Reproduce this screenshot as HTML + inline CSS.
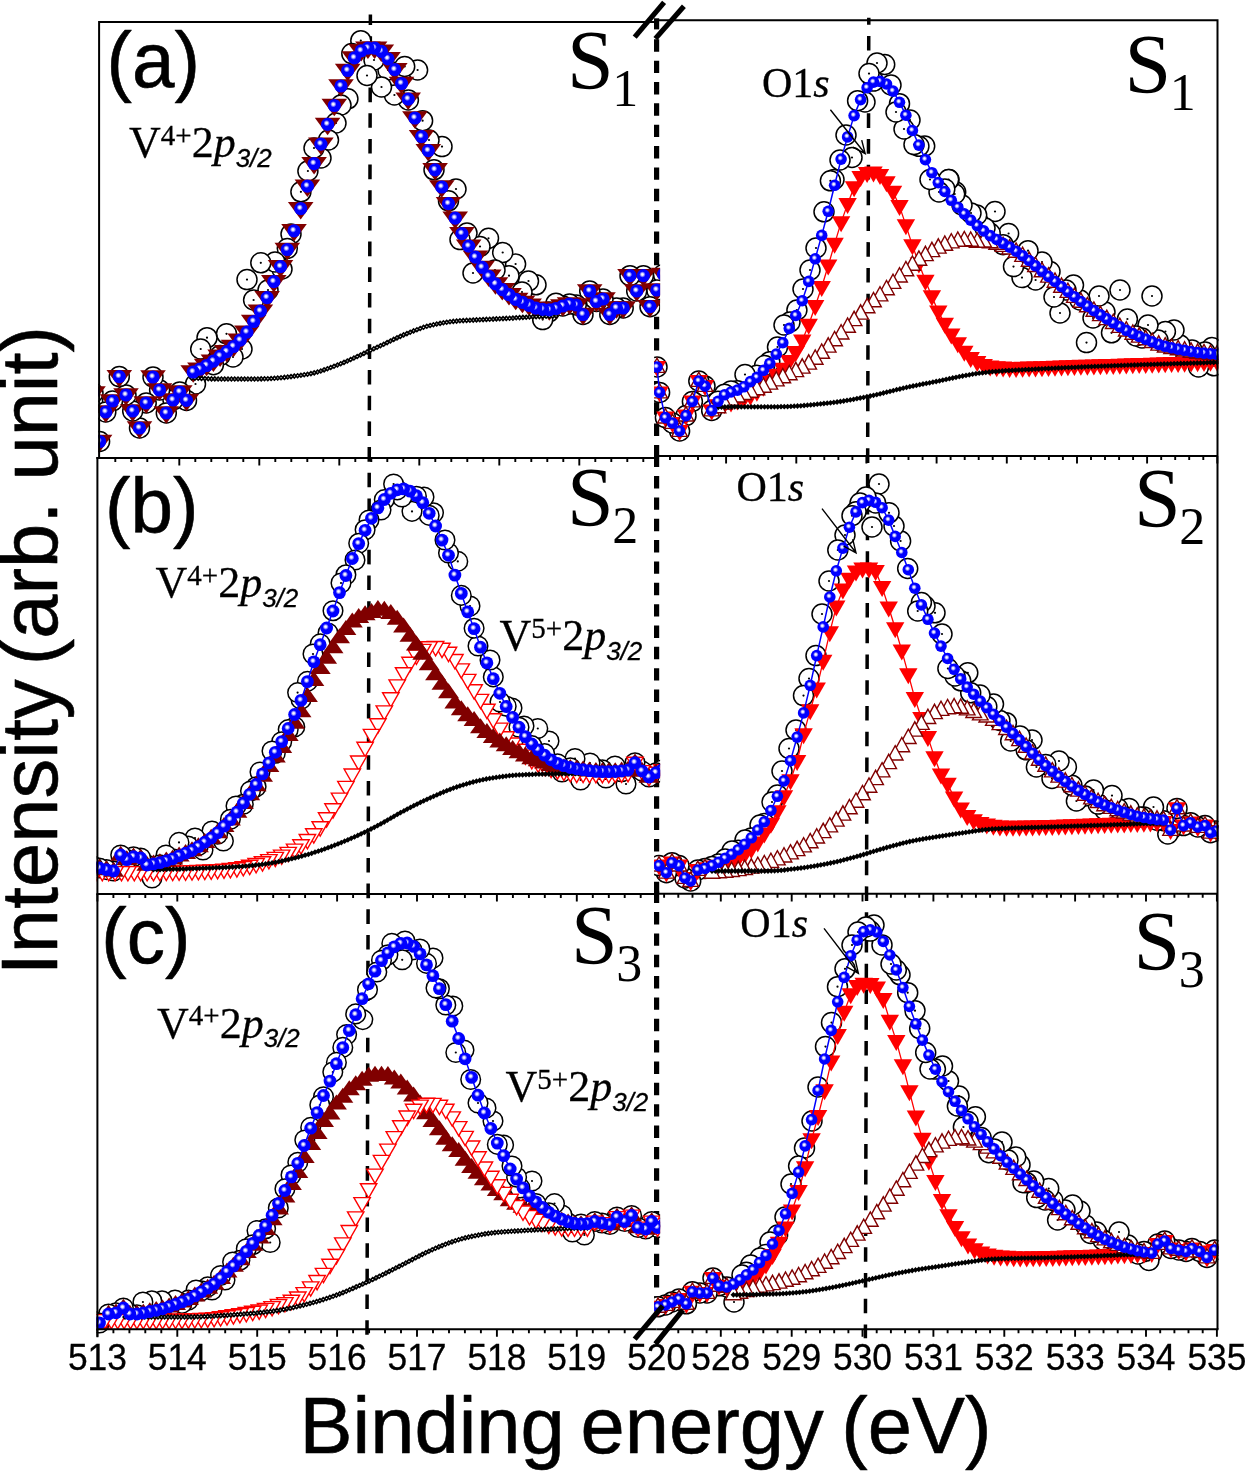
<!DOCTYPE html>
<html lang="en"><head><meta charset="utf-8"><title>XPS spectra: V 2p3/2 and O 1s</title>
<style>html,body{margin:0;padding:0;background:#fff;overflow:hidden}svg{display:block}text{font-family:"Liberation Sans",Arial,sans-serif;fill:#000}.se{font-family:"Liberation Serif","Times New Roman",serif}.it{font-style:italic}.sa{font-family:"Liberation Sans",Arial,sans-serif;font-style:italic}.w{stroke:#000;stroke-width:0.6;stroke-linejoin:round}.w2{stroke:#000;stroke-width:0.3}.w3{stroke:none}.n0{stroke:none}</style></head><body>
<svg width="1245" height="1471" viewBox="0 0 1245 1471">
<defs>
<radialGradient id="gb" cx="0.44" cy="0.42" r="0.6" fx="0.42" fy="0.40"><stop offset="0" stop-color="#fff"/><stop offset="0.14" stop-color="#e4e4ff"/><stop offset="0.40" stop-color="#00f"/><stop offset="1" stop-color="#00f"/></radialGradient>
<marker id="oA" markerUnits="userSpaceOnUse" markerWidth="30" markerHeight="30" refX="0" refY="0" viewBox="-15 -15 30 30" overflow="visible"><circle r="10.0" fill="#fff" stroke="#000" stroke-width="1.5"/><circle r="1.1" fill="#000"/></marker>
<marker id="oL" markerUnits="userSpaceOnUse" markerWidth="30" markerHeight="30" refX="0" refY="0" viewBox="-15 -15 30 30" overflow="visible"><circle r="9.8" fill="#fff" stroke="#000" stroke-width="1.5"/><circle r="1.1" fill="#000"/></marker>
<marker id="oR" markerUnits="userSpaceOnUse" markerWidth="30" markerHeight="30" refX="0" refY="0" viewBox="-15 -15 30 30" overflow="visible"><circle r="10.0" fill="#fff" stroke="#000" stroke-width="1.5"/><circle r="1.1" fill="#000"/></marker>
<marker id="bA" markerUnits="userSpaceOnUse" markerWidth="30" markerHeight="30" refX="0" refY="0" viewBox="-15 -15 30 30" overflow="visible"><circle r="6.6" fill="url(#gb)"/></marker>
<marker id="bL" markerUnits="userSpaceOnUse" markerWidth="30" markerHeight="30" refX="0" refY="0" viewBox="-15 -15 30 30" overflow="visible"><circle r="6.4" fill="url(#gb)"/></marker>
<marker id="bR" markerUnits="userSpaceOnUse" markerWidth="30" markerHeight="30" refX="0" refY="0" viewBox="-15 -15 30 30" overflow="visible"><circle r="5.8" fill="url(#gb)"/></marker>
<marker id="mdA" markerUnits="userSpaceOnUse" markerWidth="30" markerHeight="30" refX="0" refY="0" viewBox="-15 -15 30 30" overflow="visible"><path d="M-12.8,-6.7 L12.8,-6.7 L0,10.8 Z" fill="#800000"/></marker>
<marker id="muL" markerUnits="userSpaceOnUse" markerWidth="30" markerHeight="30" refX="0" refY="0" viewBox="-15 -15 30 30" overflow="visible"><path d="M-10.5,5.7 L10.5,5.7 L0,-9.3 Z" fill="#800000"/></marker>
<marker id="rdL" markerUnits="userSpaceOnUse" markerWidth="30" markerHeight="30" refX="0" refY="0" viewBox="-15 -15 30 30" overflow="visible"><path d="M-8.2,-5.4 L8.2,-5.4 L0,8.9 Z" fill="#fff" stroke="#f00" stroke-width="1.4"/></marker>
<marker id="rdR" markerUnits="userSpaceOnUse" markerWidth="30" markerHeight="30" refX="0" refY="0" viewBox="-15 -15 30 30" overflow="visible"><path d="M-9.2,-6.1 L9.2,-6.1 L0,9.9 Z" fill="#f00"/></marker>
<marker id="mlR" markerUnits="userSpaceOnUse" markerWidth="30" markerHeight="30" refX="0" refY="0" viewBox="-15 -15 30 30" overflow="visible"><path d="M-7.8,5.4 L7.8,5.4 L0,-8.9 Z" fill="#fff" stroke="#800000" stroke-width="1.4"/></marker>
<marker id="kd" markerUnits="userSpaceOnUse" markerWidth="30" markerHeight="30" refX="0" refY="0" viewBox="-15 -15 30 30" overflow="visible"><path d="M-2.9,0 L0,-2.9 L2.9,0 L0,2.9 Z" fill="#000"/></marker>
<marker id="ko" markerUnits="userSpaceOnUse" markerWidth="30" markerHeight="30" refX="0" refY="0" viewBox="-15 -15 30 30" overflow="visible"><path d="M-1.9,0 L0,-1.9 L1.9,0 L0,1.9 Z" fill="#fff" stroke="#000" stroke-width="1.6"/></marker>
<clipPath id="cL"><rect x="96.5" y="0" width="563.6" height="1471"/></clipPath>
<clipPath id="cA"><rect x="98.2" y="0" width="561.9" height="1471"/></clipPath>
<clipPath id="cR"><rect x="654.1" y="0" width="564.4" height="1471"/></clipPath>
</defs>
<rect x="0" y="0" width="1245" height="1471" fill="#fff"/>
<line x1="370.4" y1="14.5" x2="367" y2="1335" stroke="#000" stroke-width="3.5" stroke-dasharray="14.6 11.08" stroke-dashoffset="4"/>
<line x1="868.8" y1="17.7" x2="865.4" y2="1338.3" stroke="#000" stroke-width="3.5" stroke-dasharray="14.6 11.17" stroke-dashoffset="7.5"/>
<line x1="656.6" y1="18.3" x2="656.6" y2="29.4" stroke="#000" stroke-width="5.2" stroke-dasharray="40 1" stroke-dashoffset="0"/>
<line x1="656.6" y1="39.3" x2="656.6" y2="457.5" stroke="#000" stroke-width="5.2" stroke-dasharray="12.4 8.95" stroke-dashoffset="0"/>
<line x1="656.6" y1="454.7" x2="656.6" y2="896" stroke="#000" stroke-width="5.2" stroke-dasharray="12.4 8.95" stroke-dashoffset="0"/>
<line x1="656.6" y1="890.7" x2="656.6" y2="1310" stroke="#000" stroke-width="5.2" stroke-dasharray="12.4 8.95" stroke-dashoffset="0"/>
<g clip-path="url(#cA)">
<polyline points="663.5,274.4 656.8,290 650,306.7 643.4,275.7 636.7,291 630,275.7 623.2,308 616.5,308 609.8,314.5 603,299 596.4,301.5 589.7,291 583,314.5 576.2,305 569.5,304 562.8,306 556,303.2 549,312 542.7,319.6 536,284.8 528.5,281 522,292 515.6,264 509,275.7 502.7,252.5 495,270 488.5,238.3 480,246.5 473,273 467,233 460,239.6 456,189 448.5,200.8 442,146.6 434,169.8 429,140 422.6,120.7 417.6,70 408.4,100 404.7,66.5 394.4,95 388,70 381.5,87 374,60 367,75.5 360.8,40.7 351.8,53.6 347.9,98.8 341,105 336,123 328.5,140 321,158 314,148 307.9,171 300.9,191.8 291,234 287.3,248.5 282,269 275,262 268,290 260.8,262.8 253.6,300 247,279.6 242,349 233,357 226.5,333.8 220.1,355.5 213.4,364.7 207,337.7 200.7,349 195.5,384 186.5,400.4 179.8,392 173,400 166.3,413 159.6,390 153,377 146.2,403 139.5,428 132.7,411 126,395 119.3,376.6 112.5,401 105.8,412 99.6,441.5 93,393" fill="none" stroke="none" stroke-width="1.2" stroke-linejoin="round" marker-start="url(#oA)" marker-mid="url(#oA)" marker-end="url(#oA)"/>
<polyline points="186.5,400.4 179.8,392 173,400 166.3,413 159.6,390 153,377 146.2,403 139.5,428 132.7,411 126,395 119.3,376.6 112.5,401 105.8,412 99.6,441.5 93,393" fill="none" stroke="none" stroke-width="1.2" stroke-linejoin="round" marker-start="url(#mdA)" marker-mid="url(#mdA)" marker-end="url(#mdA)"/>
<polyline points="663.5,274.4 656.8,290 650,306.7 643.4,275.7 636.7,291 630,275.7 623.2,308 616.5,308 609.8,314.5 603,299 596.4,301.5 589.7,291 583,314.5 576.2,305 569.5,304 562.8,306" fill="none" stroke="none" stroke-width="1.2" stroke-linejoin="round" marker-start="url(#mdA)" marker-mid="url(#mdA)" marker-end="url(#mdA)"/>
<polyline points="556,308.5 549.3,309.9 542.6,309.3 535.8,308.1 529.1,305.3 522.4,302.4 515.7,299.4 509,294.7 502.3,289.6 495.5,283.9 488.8,276.3 482.1,267.4 475.4,257.2 468.7,246.2 461.9,233.6 455.2,218.2 448.5,203.7 441.8,187 435.1,169.8 428.3,150.7 421.6,136.7 414.9,118 408.2,99.1 401.5,83.5 394.8,69.7 388,58.8 381.3,51.3 374.6,48.1 367.9,48.2 361.2,50.8 354.4,57.9 347.7,70.5 341,86 334.3,105.5 327.6,124.4 320.9,144.1 314.1,163.6 307.4,186.1 300.7,208.7 294,230.8 287.3,249.5 280.5,266.6 273.8,281.7 267.1,297.6 260.4,311.1 253.7,321.5 246.9,332.2 240.2,340.2 233.5,346.5 226.8,351.7 220.1,356.1 213.4,361.2 206.6,365.5 199.9,369.1 193.2,372" fill="none" stroke="none" stroke-width="1.3" stroke-linejoin="round" marker-start="url(#mdA)" marker-mid="url(#mdA)" marker-end="url(#mdA)"/>
<polyline points="556,316 552.7,316.1 549.4,316.2 546.1,316.3 542.7,316.4 539.4,316.6 536.1,316.7 532.8,316.9 529.5,317 526.2,317.2 522.9,317.4 519.6,317.6 516.2,317.8 512.9,318.1 509.6,318.3 506.3,318.4 503,318.6 499.7,318.8 496.4,318.9 493.1,319.1 489.7,319.3 486.4,319.4 483.1,319.6 479.8,319.8 476.5,319.9 473.2,320.1 469.9,320.2 466.6,320.4 463.2,320.6 459.9,320.8 456.6,321.1 453.3,321.4 450,321.8 446.7,322.3 443.4,322.8 440.1,323.4 436.7,324 433.4,324.7 430.1,325.5 426.8,326.3 423.5,327.3 420.2,328.5 416.9,329.7 413.6,330.9 410.2,332.2 406.9,333.6 403.6,334.9 400.3,336.4 397,337.9 393.7,339.4 390.4,341 387.1,342.6 383.7,344.2 380.4,345.8 377.1,347.3 373.8,348.8 370.5,350.3 367.2,351.9 363.9,353.4 360.5,355 357.2,356.5 353.9,358 350.6,359.5 347.3,361 344,362.4 340.7,363.7 337.4,365 334,366.3 330.7,367.5 327.4,368.8 324.1,369.9 320.8,371 317.5,372 314.2,372.9 310.9,373.6 307.5,374.2 304.2,374.7 300.9,375.2 297.6,375.7 294.3,376.1 291,376.6 287.7,377 284.4,377.4 281,377.7 277.7,378 274.4,378.3 271.1,378.5 267.8,378.7 264.5,378.8 261.2,378.9 257.9,379 254.5,379 251.2,379 247.9,379 244.6,379 241.3,379 238,379 234.7,379 231.4,379 228,379 224.7,379 221.4,379 218.1,379 214.8,378.9 211.5,378.9 208.2,378.8 204.9,378.6 201.5,378.5 198.2,378.3 194.9,378.2 191.6,378" fill="none" stroke="#000" stroke-width="1.8" stroke-linejoin="round" marker-start="url(#ko)" marker-mid="url(#ko)" marker-end="url(#ko)"/>
<polyline points="663.5,274.4 656.8,290 650,306.7 643.4,275.7 636.7,291 630,275.7 623.2,308 616.5,308 609.8,314.5 603,299 596.4,301.5 589.7,291 583,314.5 576.2,305 569.5,304 562.8,306 556,308.5 549.3,309.9 542.6,309.3 535.8,308.1 529.1,305.3 522.4,302.4 515.7,299.4 509,294.7 502.3,289.6 495.5,283.9 488.8,276.3 482.1,267.4 475.4,257.2 468.7,246.2 461.9,233.6 455.2,218.2 448.5,203.7 441.8,187 435.1,169.8 428.3,150.7 421.6,136.7 414.9,118 408.2,99.1 401.5,83.5 394.8,69.7 388,58.8 381.3,51.3 374.6,48.1 367.9,48.2 361.2,50.8 354.4,57.9 347.7,70.5 341,86 334.3,105.5 327.6,124.4 320.9,144.1 314.1,163.6 307.4,186.1 300.7,208.7 294,230.8 287.3,249.5 280.5,266.6 273.8,281.7 267.1,297.6 260.4,311.1 253.7,321.5 246.9,332.2 240.2,340.2 233.5,346.5 226.8,351.7 220.1,356.1 213.4,361.2 206.6,365.5 199.9,369.1 193.2,372 186.5,400.4 179.8,392 173,400 166.3,413 159.6,390 153,377 146.2,403 139.5,428 132.7,411 126,395 119.3,376.6 112.5,401 105.8,412 99.6,441.5 93,393" fill="none" stroke="none" stroke-width="1.5" stroke-linejoin="round" marker-start="url(#bA)" marker-mid="url(#bA)" marker-end="url(#bA)"/>
</g>
<g clip-path="url(#cR)">
<polyline points="1214,365.8 1212,347.5 1205,352 1198.5,367 1192,350 1186,356 1180,345 1174,330 1165.4,331.5 1158,340 1152,296 1148,325 1142,338 1136,336 1127.4,319 1120,290 1111.5,332.8 1105,312 1099,296 1093,318 1086.5,342.6 1080,300 1073.5,285 1066,290 1060,313 1054,297 1050,271.5 1042,262 1035.6,280 1028,250.7 1022,277.6 1013.5,266.6 1008.6,233.5 1003.1,244.7 995,211.5 990.2,233.3 985,228 976.7,215 971,213 962,205 955.7,192 954.7,194 949,179.5 948.6,179.6 944.8,188.9 939,192 930,179.5 924.7,146 918.9,146.3 914,144.6 910,120 904,129 899.5,103.7 896,112 891,85 884.7,64.5 877,63 873.5,81.1 869,73.6 865,102 857.6,100.7 852,157.5 846,135 840,160 834,179.5 830.4,180.8 824,211.8 816,248 810,270 803,289 796.9,310 790,322 784,325 777.5,347 769.8,361.7 764.6,365.5 756.9,375.2 750.4,382.4 745,374.5 737.4,390.8 731,390.9 724.5,394.2 718,401.3 711.7,410.5 705,386 698.8,381 692.4,401.5 686,415.6 679.6,431 672.5,423 665.4,417.6 659.6,392.5 657,367" fill="none" stroke="none" stroke-width="1.2" stroke-linejoin="round" marker-start="url(#oR)" marker-mid="url(#oR)" marker-end="url(#oR)"/>
<polyline points="711.7,410.5 705,386 698.8,381 692.4,401.5 686,415.6 679.6,431 672.5,423 665.4,417.6 659.6,392.5 657,367" fill="none" stroke="none" stroke-width="1.2" stroke-linejoin="round" marker-start="url(#rdR)" marker-mid="url(#rdR)" marker-end="url(#rdR)"/>
<polyline points="1217,361.5 1210.5,361.8 1204,362.1 1197.6,362.4 1191.1,362.6 1184.6,362.8 1178.1,363 1171.6,363.2 1165.2,363.4 1158.7,363.6 1152.2,363.8 1145.7,364 1139.2,364.2 1132.8,364.4 1126.3,364.6 1119.8,364.8 1113.3,365 1106.8,365.2 1100.4,365.4 1093.9,365.6 1087.4,365.8 1080.9,365.9 1074.4,366.1 1067.9,366.3 1061.5,366.5 1055,366.8 1048.5,367 1042,367.3 1035.5,367.5 1029.1,367.7 1022.6,367.9 1016.1,368 1009.6,368 1003.1,367.7 996.7,367.3 990.2,366.6 983.7,365.1 977.2,362.2 970.7,358 964.3,351.8 957.8,343.4 951.3,334.7 944.8,323.9 938.3,311.7 931.9,296.4 925.4,280.8 918.9,263.5 912.4,245.4 905.9,225.4 899.5,206.1 893,191.9 886.5,182.3 880,175 873.5,172.7 867.1,173 860.6,177.2 854.1,187.3 847.6,204.1 841.1,222.4 834.6,243.9 828.2,265.7 821.7,287 815.2,306.2 808.7,324.8 802.2,340.5 795.8,352 789.3,361 782.8,368.8 776.3,374.8 769.8,380.6 763.4,386.9 756.9,391.9 750.4,395.8 743.9,398.4 737.4,400.5 731,402.5 724.5,404.1 718,405.4" fill="none" stroke="#f00" stroke-width="1.3" stroke-linejoin="round" marker-start="url(#rdR)" marker-mid="url(#rdR)" marker-end="url(#rdR)"/>
<polyline points="711.7,410.5 705,386 698.8,381 692.4,401.5 686,415.6 679.6,431 672.5,423 665.4,417.6 659.6,392.5 657,367" fill="none" stroke="none" stroke-width="1.2" stroke-linejoin="round" marker-start="url(#mlR)" marker-mid="url(#mlR)" marker-end="url(#mlR)"/>
<polyline points="1217,354.6 1210.5,354 1204,353.4 1197.6,352.8 1191.1,351.8 1184.6,350.6 1178.1,349.4 1171.6,348.1 1165.2,346.6 1158.7,344.7 1152.2,342.1 1145.7,339.4 1139.2,336.7 1132.8,333.8 1126.3,330.6 1119.8,327 1113.3,323.1 1106.8,319.2 1100.4,315.2 1093.9,310.9 1087.4,306.4 1080.9,301.8 1074.4,297 1067.9,292 1061.5,286.9 1055,281.8 1048.5,276.7 1042,271.4 1035.5,266.1 1029.1,260.8 1022.6,256 1016.1,251.8 1009.6,248.6 1003.1,246 996.7,243.9 990.2,242.3 983.7,241.6 977.2,241.9 970.7,240.8 964.3,240.3 957.8,240.9 951.3,242.5 944.8,244.9 938.3,247.7 931.9,251.2 925.4,255.2 918.9,259.8 912.4,264.9 905.9,270.4 899.5,276.6 893,283 886.5,289.3 880,295.5 873.5,301.4 867.1,307.3 860.6,313.7 854.1,320.2 847.6,326.9 841.1,333.6 834.6,340.3 828.2,346.7 821.7,352.9 815.2,358.8 808.7,363.7 802.2,367.7 795.8,371.2 789.3,374.3 782.8,377.4 776.3,380.5 769.8,383.7 763.4,386.8 756.9,389.4 750.4,391.8 743.9,394.1 737.4,396.6 731,399.8 724.5,403.6 718,407.3" fill="none" stroke="none" stroke-width="1.3" stroke-linejoin="round" marker-start="url(#mlR)" marker-mid="url(#mlR)" marker-end="url(#mlR)"/>
<polyline points="1217,362.4 1213.7,362.5 1210.4,362.6 1207.1,362.7 1203.8,362.8 1200.5,362.9 1197.2,363 1193.9,363.1 1190.6,363.2 1187.3,363.3 1184,363.4 1180.7,363.5 1177.4,363.6 1174.1,363.7 1170.8,363.8 1167.5,363.9 1164.1,364 1160.8,364.1 1157.5,364.2 1154.2,364.3 1150.9,364.4 1147.6,364.5 1144.3,364.6 1141,364.7 1137.7,364.9 1134.4,365 1131.1,365.1 1127.8,365.2 1124.5,365.3 1121.2,365.4 1117.9,365.6 1114.6,365.7 1111.3,365.8 1108,365.9 1104.7,366.1 1101.4,366.2 1098.1,366.3 1094.8,366.4 1091.5,366.6 1088.2,366.7 1084.9,366.8 1081.6,367 1078.3,367.1 1075,367.3 1071.7,367.4 1068.4,367.6 1065,367.7 1061.7,367.9 1058.4,368 1055.1,368.2 1051.8,368.3 1048.5,368.5 1045.2,368.6 1041.9,368.8 1038.6,369 1035.3,369.1 1032,369.3 1028.7,369.5 1025.4,369.6 1022.1,369.8 1018.8,370 1015.5,370.2 1012.2,370.3 1008.9,370.5 1005.6,370.7 1002.3,371 999,371.2 995.7,371.5 992.4,371.7 989.1,372 985.8,372.4 982.5,372.8 979.2,373.2 975.9,373.7 972.6,374.2 969.3,374.8 966,375.4 962.6,376 959.3,376.6 956,377.3 952.7,378 949.4,378.7 946.1,379.4 942.8,380.1 939.5,380.8 936.2,381.5 932.9,382.1 929.6,382.8 926.3,383.4 923,384 919.7,384.7 916.4,385.4 913.1,386 909.8,386.7 906.5,387.4 903.2,388.2 899.9,389 896.6,389.7 893.3,390.6 890,391.4 886.7,392.2 883.4,393 880.1,393.8 876.8,394.6 873.5,395.3 870.2,396 866.9,396.7 863.6,397.4 860.2,398 856.9,398.6 853.6,399.3 850.3,399.9 847,400.4 843.7,401 840.4,401.5 837.1,402 833.8,402.4 830.5,402.8 827.2,403.2 823.9,403.5 820.6,403.9 817.3,404.2 814,404.6 810.7,404.9 807.4,405.2 804.1,405.5 800.8,405.8 797.5,406 794.2,406.2 790.9,406.4 787.6,406.6 784.3,406.7 781,406.7 777.7,406.8 774.4,406.8 771.1,406.8 767.8,406.8 764.5,406.8 761.1,406.8 757.8,406.8 754.5,406.8 751.2,406.8 747.9,406.8 744.6,406.8 741.3,406.8 738,406.8 734.7,406.8 731.4,406.8 728.1,406.8 724.8,406.9 721.5,407.1 718.2,407.3 714.9,407.6 711.6,408" fill="none" stroke="#000" stroke-width="1.8" stroke-linejoin="round" marker-start="url(#kd)" marker-mid="url(#kd)" marker-end="url(#kd)"/>
<polyline points="1217,354.3 1210.5,353.7 1204,353.1 1197.6,352.5 1191.1,351.5 1184.6,350.3 1178.1,349.1 1171.6,347.8 1165.2,346.3 1158.7,344.4 1152.2,341.8 1145.7,339.1 1139.2,336.4 1132.8,333.5 1126.3,330.3 1119.8,326.7 1113.3,322.8 1106.8,318.9 1100.4,314.9 1093.9,310.6 1087.4,306.1 1080.9,301.5 1074.4,296.7 1067.9,291.7 1061.5,286.6 1055,281.5 1048.5,276.4 1042,271.1 1035.5,265.8 1029.1,260.5 1022.6,255.7 1016.1,251.2 1009.6,247.1 1003.1,243.3 996.7,239.5 990.2,235.6 983.7,230.9 977.2,225.6 970.7,220.1 964.3,213.8 957.8,207.2 951.3,200.3 944.8,191.5 938.3,182.6 931.9,172.7 925.4,159.6 918.9,145.1 912.4,130.5 905.9,115.2 899.5,102.3 893,91.1 886.5,84 880,81.4 873.5,82.1 867.1,87.7 860.6,99.6 854.1,115.6 847.6,136.9 841.1,159.1 834.6,185.3 828.2,211.3 821.7,235.4 815.2,258.8 808.7,281.4 802.2,300.7 795.8,315.5 789.3,328.4 782.8,342.7 776.3,354.1 769.8,363.4 763.4,370.3 756.9,377.4 750.4,381.6 743.9,386.8 737.4,390.1 731,392 724.5,394.8 718,401.3 711.7,410.5 705,386 698.8,381 692.4,401.5 686,415.6 679.6,431 672.5,423 665.4,417.6 659.6,392.5 657,367" fill="none" stroke="#00f" stroke-width="1.5" stroke-linejoin="round" marker-start="url(#bR)" marker-mid="url(#bR)" marker-end="url(#bR)"/>
</g>
<g clip-path="url(#cL)">
<polyline points="662,770 656,772.7 649,777 642,771 635,762.7 626,784 621.6,771.8 615,766 606,778 602.4,769.8 595.9,768.9 590,763 580.6,780 575,758.5 570.3,767.7 562,772 557.5,763.7 549,741 544.6,753.6 537.8,728.5 531.8,745.6 524,726 519,727.3 512,708 506.2,706.2 500,702 493.3,676.9 490,660 478,646 474.1,628.3 470,606 461.3,595.4 457.8,561.4 448.5,553 445,540 433.5,512.8 429.2,515.4 424,497 416.4,496.2 412,511.4 402,497 397.2,489.9 393.6,484 384.3,499.6 381,510 369,520 365.1,529.8 358.7,543.3 355,560 345.9,574.8 341,583 333,610.7 328,633 320.2,643.9 313,654 307.4,681.4 301,699.4 297.6,692.6 294.8,726.9 288.2,729.6 281.7,741.7 275.3,753.3 272,751 260,772 256.1,786.8 250.5,791 243.3,804.3 236,806 230.4,819.3 223.4,841 217.6,834.3 212,831 203,850 198.4,845.6 195,838 188,846 179,842.4 172.7,858.8 166,855 159.9,864.9 152,878 146.9,865 140.7,858 133.5,856.7 126.8,859.6 120.7,855 113.5,871 106.4,869.6 99.3,868 92.5,866" fill="none" stroke="none" stroke-width="1.2" stroke-linejoin="round" marker-start="url(#oL)" marker-mid="url(#oL)" marker-end="url(#oL)"/>
<polyline points="662,770 656,772.7 649,777 642,771 635,762.7" fill="none" stroke="none" stroke-width="1.2" stroke-linejoin="round" marker-start="url(#rdL)" marker-mid="url(#rdL)" marker-end="url(#rdL)"/>
<polyline points="628,773 621.6,773.4 615.2,773.7 608.8,773.9 602.4,774 595.9,774 589.5,773.9 583.1,773.8 576.7,773.6 570.3,773 563.9,771.7 557.5,770.3 551.1,768.6 544.6,766.5 538.2,763.5 531.8,759.9 525.4,755.5 519,749.7 512.6,743.4 506.2,737.1 499.8,728.5 493.3,719.2 486.9,709.6 480.5,699.8 474.1,690.2 467.7,679.8 461.3,669.3 454.9,659.9 448.5,652.7 442,648.6 435.6,646.9 429.2,647.1 422.8,649.8 416.4,655.4 410,662.7 403.6,673.1 397.2,685.3 390.8,698.1 384.3,711.3 377.9,724.1 371.5,734.8 365.1,747.7 358.7,761.4 352.3,774.4 345.9,786.8 339.5,798.5 333,809.2 326.6,818.2 320.2,827.1 313.8,834.2 307.4,839.9 301,845.2 294.6,849.5 288.2,852.8 281.7,855.5 275.3,857.8 268.9,860 262.5,862.1 256.1,863.9 249.7,865.6 243.3,867 236.9,868.1 230.4,868.9 224,869.5 217.6,870 211.2,870.4 204.8,870.7 198.4,870.9 192,871.2 185.6,871.4 179.1,871.5 172.7,871.7 166.3,871.8 159.9,872 153.5,872 147.1,872 140.7,872 134.3,872 127.9,872 121.5,872 115.1,872 108.7,872 102.3,872 95.9,872" fill="none" stroke="none" stroke-width="1.3" stroke-linejoin="round" marker-start="url(#rdL)" marker-mid="url(#rdL)" marker-end="url(#rdL)"/>
<polyline points="146.9,865 140.7,858 133.5,856.7 126.8,859.6 120.7,855 113.5,871 106.4,869.6 99.3,868 92.5,866" fill="none" stroke="none" stroke-width="1.2" stroke-linejoin="round" marker-start="url(#muL)" marker-mid="url(#muL)" marker-end="url(#muL)"/>
<polyline points="662,770 656,772.7 649,777 642,771 635,762.7" fill="none" stroke="none" stroke-width="1.2" stroke-linejoin="round" marker-start="url(#muL)" marker-mid="url(#muL)" marker-end="url(#muL)"/>
<polyline points="628,770 621.6,770.9 615.2,771.5 608.8,771.6 602.4,771.6 595.9,771.4 589.5,770.7 583.1,769.7 576.7,769 570.3,768.3 563.9,767.8 557.5,766.9 551.1,765.2 544.6,762.7 538.2,760.5 531.8,758.5 525.4,755.7 519,752.5 512.6,749.4 506.2,745.5 499.8,741.7 493.3,737.3 486.9,732.2 480.5,727.6 474.1,720.3 467.7,715.6 461.3,709.6 454.9,702.9 448.5,692.6 442,684.1 435.6,674.5 429.2,664.5 422.8,654.1 416.4,644.8 410,636.1 403.6,626.8 397.2,619 390.8,613.4 384.3,610.1 377.9,609.3 371.5,612.2 365.1,614.6 358.7,617.2 352.3,621.9 345.9,629.3 339.5,637.5 333,647.6 326.6,658.1 320.2,668.2 313.8,680.3 307.4,696.4 301,711.6 294.6,723 288.2,735.3 281.7,747.2 275.3,756.9 268.9,766.4 262.5,776.1 256.1,785.6 249.7,794.5 243.3,803.2 236.9,812.1 230.4,819.7 224,826.2 217.6,832.6 211.2,838 204.8,842.2 198.4,846.6 192,850.5 185.6,853.2 179.1,855.8 172.7,858.8 166.3,860.8 159.9,862.6 153.5,863.9" fill="none" stroke="none" stroke-width="1.3" stroke-linejoin="round" marker-start="url(#muL)" marker-mid="url(#muL)" marker-end="url(#muL)"/>
<polyline points="628,773 624.7,773.1 621.4,773.1 618.1,773.2 614.8,773.3 611.5,773.3 608.2,773.4 604.9,773.4 601.6,773.5 598.3,773.5 595,773.6 591.8,773.6 588.5,773.6 585.2,773.6 581.9,773.7 578.6,773.7 575.3,773.7 572,773.7 568.7,773.8 565.4,773.8 562.1,773.8 558.8,773.8 555.5,773.9 552.2,773.9 548.9,774 545.6,774 542.3,774.1 539,774.2 535.7,774.2 532.4,774.4 529.1,774.5 525.9,774.6 522.6,774.8 519.3,774.9 516,775.1 512.7,775.4 509.4,775.7 506.1,776.1 502.8,776.5 499.5,776.9 496.2,777.4 492.9,777.9 489.6,778.4 486.3,779 483,779.7 479.7,780.4 476.4,781.2 473.1,782 469.8,782.9 466.5,783.9 463.2,784.9 459.9,785.9 456.7,787 453.4,788.1 450.1,789.4 446.8,790.7 443.5,792 440.2,793.4 436.9,794.9 433.6,796.3 430.3,797.8 427,799.3 423.7,800.8 420.4,802.4 417.1,804.1 413.8,805.7 410.5,807.4 407.2,809.1 403.9,810.9 400.6,812.6 397.3,814.4 394,816.3 390.8,818.2 387.5,820.1 384.2,822 380.9,823.8 377.6,825.6 374.3,827.3 371,829 367.7,830.7 364.4,832.3 361.1,833.8 357.8,835.4 354.5,836.9 351.2,838.3 347.9,839.8 344.6,841.2 341.3,842.6 338,843.9 334.7,845.2 331.4,846.5 328.1,847.7 324.8,848.9 321.6,850.1 318.3,851.2 315,852.2 311.7,853.3 308.4,854.3 305.1,855.2 301.8,856.2 298.5,857 295.2,857.9 291.9,858.7 288.6,859.5 285.3,860.2 282,861 278.7,861.7 275.4,862.3 272.1,862.9 268.8,863.4 265.5,863.9 262.2,864.4 258.9,864.8 255.6,865.1 252.4,865.5 249.1,865.8 245.8,866.1 242.5,866.4 239.2,866.6 235.9,866.8 232.6,867 229.3,867.2 226,867.3 222.7,867.5 219.4,867.6 216.1,867.7 212.8,867.9 209.5,868 206.2,868.1 202.9,868.2 199.6,868.3 196.3,868.4 193,868.6 189.7,868.7 186.5,868.8 183.2,868.9 179.9,869 176.6,869.1 173.3,869.1 170,869.2 166.7,869.3 163.4,869.4 160.1,869.5 156.8,869.5 153.5,869.6" fill="none" stroke="#000" stroke-width="1.8" stroke-linejoin="round" marker-start="url(#kd)" marker-mid="url(#kd)" marker-end="url(#kd)"/>
<polyline points="662,770 656,772.7 649,777 642,771 635,762.7 628,770 621.6,770.9 615.2,771.5 608.8,771.6 602.4,771.6 595.9,771.4 589.5,770.7 583.1,769.7 576.7,768.8 570.3,767.5 563.9,765.7 557.5,763.3 551.1,759.8 544.6,755.2 538.2,749.8 531.8,744 525.4,736.6 519,727.2 512.6,717.3 506.2,706.5 499.8,693.3 493.3,678.7 486.9,662.9 480.5,647.2 474.1,628.7 467.7,611.9 461.3,593.4 454.9,575.1 448.5,555.3 442,540.1 435.6,526 429.2,513.3 422.8,502.7 416.4,495.7 410,491.1 403.6,488.9 397.2,489.8 390.8,493.3 384.3,499.5 377.9,507.9 371.5,518.3 365.1,530.3 358.7,543.6 352.3,558.5 345.9,575.5 339.5,592.6 333,611 326.6,628 320.2,644.7 313.8,661.8 307.4,681.6 301,700.4 294.6,714.5 288.2,728.5 281.7,741.6 275.3,752.3 268.9,763 262.5,773.9 256.1,784.5 249.7,794.3 243.3,803.2 236.9,812.1 230.4,819.7 224,826.2 217.6,832.6 211.2,838 204.8,842.2 198.4,846.6 192,850.5 185.6,853.2 179.1,855.8 172.7,858.8 166.3,860.8 159.9,862.6 153.5,863.9 146.9,865 140.7,858 133.5,856.7 126.8,859.6 120.7,855 113.5,871 106.4,869.6 99.3,868 92.5,866" fill="none" stroke="#00f" stroke-width="1.5" stroke-linejoin="round" marker-start="url(#bL)" marker-mid="url(#bL)" marker-end="url(#bL)"/>
</g>
<g clip-path="url(#cR)">
<polyline points="1216,831 1210.6,832.7 1205,825.6 1197.8,827 1190.6,822.7 1183.5,825.6 1177,808.4 1170.6,830 1167.8,834 1163.5,820.7 1157,820.2 1153.5,807 1143.9,816.9 1140,817 1129,808.4 1122,815 1117.7,808.4 1112,795.6 1105,810 1098.1,804.1 1093.5,790 1085,796 1076.4,801 1071.9,785.2 1066.4,767 1059,761 1052,778.4 1045.7,764.4 1036.4,767 1032,740 1026.1,749.8 1020,736 1010.7,741 1006.4,722.7 999.9,720.5 993.5,704 986.8,706.5 980,695 970.7,692.8 967.8,672.8 960.7,680.8 955,676 947.9,668.5 942,634 935,612.8 925,606 921.4,602.5 917.7,611 907.7,568.5 900.6,541 894,526 889,512.8 879,484 875.6,502.9 872,527 866,497 860,503 856,511.7 852,515.7 845,535 837.8,550 829,581 822,614 816,655.6 809,678.5 803.5,695.6 796,730 789,748.5 782,771 777.4,795 772,802 764.3,823.6 760,825 751.3,837.9 745,840 738.2,850.3 732,851 725.1,859.1 718.5,863.9 712,866.6 705,868.4 697.8,870 690.7,881 685,878 679,865.6 672,862.7 666.4,872.7 659,865.6" fill="none" stroke="none" stroke-width="1.2" stroke-linejoin="round" marker-start="url(#oR)" marker-mid="url(#oR)" marker-end="url(#oR)"/>
<polyline points="705,868.4 697.8,870 690.7,881 685,878 679,865.6 672,862.7 666.4,872.7 659,865.6" fill="none" stroke="none" stroke-width="1.2" stroke-linejoin="round" marker-start="url(#rdR)" marker-mid="url(#rdR)" marker-end="url(#rdR)"/>
<polyline points="1216,831 1210.6,832.7 1205,825.6 1197.8,827 1190.6,822.7 1183.5,825.6 1177,808.4 1170.6,830" fill="none" stroke="none" stroke-width="1.2" stroke-linejoin="round" marker-start="url(#rdR)" marker-mid="url(#rdR)" marker-end="url(#rdR)"/>
<polyline points="1163.5,822.1 1157,822.3 1150.4,822.6 1143.9,822.8 1137.3,823 1130.8,823.2 1124.2,823.5 1117.7,823.7 1111.2,823.9 1104.6,824.1 1098.1,824.4 1091.5,824.6 1085,824.9 1078.4,825.1 1071.9,825.4 1065.3,825.6 1058.8,825.8 1052.3,826 1045.7,826.2 1039.2,826.3 1032.6,826.5 1026.1,826.7 1019.5,826.8 1013,826.9 1006.5,826.9 999.9,826.6 993.4,825.8 986.8,824.7 980.3,823.2 973.7,820.4 967.2,816 960.7,808.7 954.1,797.6 947.6,783.8 941,774.5 934.5,757.4 927.9,737.1 921.4,718.2 914.8,698.1 908.3,674.4 901.8,650.7 895.2,628.3 888.7,607.5 882.1,587.1 875.6,571.1 869,568.6 862.5,568.7 856,571.5 849.4,578.8 842.9,589.5 836.3,606.7 829.8,632.3 823.2,660.9 816.7,688.6 810.2,710.3 803.6,734.3 797.1,761.2 790.5,780.3 784,796.3 777.4,811.4 770.9,823.8 764.3,833.7 757.8,842.5 751.3,849.1 744.7,854.3 738.2,858.3 731.6,861.8 725.1,864.3 718.5,865.8 712,866.5" fill="none" stroke="#f00" stroke-width="1.3" stroke-linejoin="round" marker-start="url(#rdR)" marker-mid="url(#rdR)" marker-end="url(#rdR)"/>
<polyline points="705,868.4 697.8,870 690.7,881 685,878 679,865.6 672,862.7 666.4,872.7 659,865.6" fill="none" stroke="none" stroke-width="1.2" stroke-linejoin="round" marker-start="url(#mlR)" marker-mid="url(#mlR)" marker-end="url(#mlR)"/>
<polyline points="1216,831 1210.6,832.7 1205,825.6 1197.8,827 1190.6,822.7 1183.5,825.6 1177,808.4 1170.6,830" fill="none" stroke="none" stroke-width="1.2" stroke-linejoin="round" marker-start="url(#mlR)" marker-mid="url(#mlR)" marker-end="url(#mlR)"/>
<polyline points="1163.5,820.3 1157,819.7 1150.4,818.9 1143.9,817.8 1137.3,816.5 1130.8,814.7 1124.2,812.6 1117.7,810.3 1111.2,808 1104.6,805.3 1098.1,802.1 1091.5,798.5 1085,794.8 1078.4,790.7 1071.9,786.3 1065.3,781.7 1058.8,776.7 1052.3,771.5 1045.7,765.9 1039.2,759.9 1032.6,753.5 1026.1,746.8 1019.5,740.2 1013,734.3 1006.5,729.1 999.9,724.2 993.4,720 986.8,716.6 980.3,714.5 973.7,712.1 967.2,709.5 960.7,707.9 954.1,707.4 947.6,708.3 941,710 934.5,713.2 927.9,718.1 921.4,724 914.8,730.7 908.3,738.1 901.8,746.3 895.2,754.6 888.7,763.2 882.1,771.5 875.6,779.2 869,786.8 862.5,794.4 856,801.8 849.4,808.4 842.9,814.7 836.3,820.7 829.8,826.5 823.2,832.2 816.7,837.6 810.2,842.4 803.6,846.5 797.1,850.2 790.5,853.5 784,856.6 777.4,859.5 770.9,862.1 764.3,864.3 757.8,866.1 751.3,867.7 744.7,869.1 738.2,870.2 731.6,871.1 725.1,871.8 718.5,872.4 712,872.8" fill="none" stroke="none" stroke-width="1.3" stroke-linejoin="round" marker-start="url(#mlR)" marker-mid="url(#mlR)" marker-end="url(#mlR)"/>
<polyline points="1163.5,823 1160.2,823.1 1156.9,823.2 1153.6,823.3 1150.3,823.5 1147,823.6 1143.7,823.7 1140.4,823.8 1137.1,823.9 1133.8,824 1130.5,824.1 1127.2,824.3 1124,824.4 1120.7,824.5 1117.4,824.6 1114.1,824.7 1110.8,824.8 1107.5,824.9 1104.2,825.1 1100.9,825.2 1097.6,825.3 1094.3,825.4 1091,825.5 1087.7,825.6 1084.4,825.8 1081.1,825.9 1077.8,826 1074.5,826.1 1071.2,826.2 1067.9,826.3 1064.6,826.5 1061.3,826.6 1058,826.7 1054.7,826.8 1051.4,826.9 1048.2,827 1044.9,827.1 1041.6,827.2 1038.3,827.3 1035,827.4 1031.7,827.5 1028.4,827.6 1025.1,827.7 1021.8,827.8 1018.5,827.9 1015.2,828 1011.9,828.1 1008.6,828.2 1005.3,828.4 1002,828.5 998.7,828.7 995.4,828.8 992.1,829 988.8,829.3 985.5,829.6 982.2,830 978.9,830.4 975.6,830.9 972.4,831.4 969.1,831.9 965.8,832.4 962.5,832.9 959.2,833.3 955.9,833.8 952.6,834.3 949.3,834.8 946,835.3 942.7,835.8 939.4,836.3 936.1,836.8 932.8,837.4 929.5,837.9 926.2,838.4 922.9,839 919.6,839.6 916.3,840.2 913,840.8 909.7,841.5 906.4,842.3 903.1,843.1 899.9,843.9 896.6,844.8 893.3,845.7 890,846.6 886.7,847.5 883.4,848.5 880.1,849.4 876.8,850.4 873.5,851.4 870.2,852.4 866.9,853.5 863.6,854.5 860.3,855.5 857,856.4 853.7,857.3 850.4,858.2 847.1,859.1 843.8,859.9 840.5,860.8 837.2,861.6 833.9,862.3 830.6,863 827.3,863.7 824.1,864.3 820.8,864.9 817.5,865.5 814.2,866.1 810.9,866.6 807.6,867.1 804.3,867.6 801,868 797.7,868.4 794.4,868.8 791.1,869.2 787.8,869.6 784.5,870 781.2,870.3 777.9,870.6 774.6,870.8 771.3,870.9 768,871 764.7,871 761.4,871 758.1,871 754.8,871 751.5,871 748.3,871 745,871 741.7,871 738.4,871 735.1,871 731.8,871 728.5,871 725.2,871 721.9,871 718.6,871 715.3,871 712,871" fill="none" stroke="#000" stroke-width="1.8" stroke-linejoin="round" marker-start="url(#kd)" marker-mid="url(#kd)" marker-end="url(#kd)"/>
<polyline points="1216,831 1210.6,832.7 1205,825.6 1197.8,827 1190.6,822.7 1183.5,825.6 1177,808.4 1170.6,830 1163.5,820 1157,819.4 1150.4,818.6 1143.9,817.5 1137.3,816.2 1130.8,814.4 1124.2,812.3 1117.7,810 1111.2,807.7 1104.6,805 1098.1,801.8 1091.5,798.2 1085,794.5 1078.4,790.4 1071.9,786 1065.3,781.4 1058.8,776.4 1052.3,771.2 1045.7,765.6 1039.2,759.6 1032.6,753.2 1026.1,746.5 1019.5,739.9 1013,733.4 1006.5,727.1 999.9,720.6 993.4,714.2 986.8,707.7 980.3,701.1 973.7,694.2 967.2,687.1 960.7,678.9 954.1,669.3 947.6,658.5 941,646.1 934.5,633.1 927.9,619.3 921.4,604.9 914.8,588.2 908.3,569.7 901.8,552.5 895.2,536.4 888.7,520.1 882.1,507.7 875.6,502.3 869,500.3 862.5,502.6 856,511.9 849.4,527.2 842.9,548.1 836.3,570.8 829.8,597 823.2,626.9 816.7,655.6 810.2,685.3 803.6,712.9 797.1,737.1 790.5,760.7 784,780.9 777.4,796.3 770.9,810.5 764.3,821.8 757.8,830 751.3,837.8 744.7,844.2 738.2,849.7 731.6,854.2 725.1,858.3 718.5,862.3 712,865.6 705,868.4 697.8,870 690.7,881 685,878 679,865.6 672,862.7 666.4,872.7 659,865.6" fill="none" stroke="#00f" stroke-width="1.5" stroke-linejoin="round" marker-start="url(#bR)" marker-mid="url(#bR)" marker-end="url(#bR)"/>
</g>
<g clip-path="url(#cL)">
<polyline points="664,1224 657.6,1227.5 651.7,1221.5 645.7,1229 638,1227.5 631.6,1215.5 624.7,1221.5 617,1217 609.8,1224.5 602,1223 594.8,1221.5 584.4,1235 581,1224.1 572.4,1232 568.1,1223 562,1215 554.5,1203.6 548.8,1212.9 542,1212 535.9,1203.5 532,1181 520,1188 516.6,1177.2 512,1166 503.6,1145 497.3,1144.4 493,1121 486,1108 478,1103 470.7,1079.5 464,1050 455.8,1052.5 452.8,1006 445.8,1005 439.4,988.8 436,988 433,958 426.5,963.4 419.9,949 412,950 405,941 402.2,959.8 391.8,943.4 387.9,954.7 381.5,960.2 376.8,972 367.5,989.7 362.8,1019.6 355.7,1013.9 346.6,1034.6 342.8,1047.4 336.4,1062.4 332.8,1072 323.5,1096.7 319.8,1105 310.7,1127.4 304.8,1140 297.8,1162.3 291,1175 284.9,1188.9 278.3,1208 270.2,1242.5 265.6,1228.7 257,1230.5 252.7,1244.7 246.3,1248.7 239.9,1260.2 232.6,1262 225,1280 220.6,1275.5 212,1290 207.7,1286.9 201.3,1290.8 196,1290 188.4,1300.1 182,1303.4 175,1300 169.1,1308.7 162,1300.8 156.2,1310.8 151.8,1300.8 142.9,1302 136.9,1314.9 129.8,1314 123.4,1308 116,1312.8 108.5,1314 99.5,1323 92.5,1321" fill="none" stroke="none" stroke-width="1.2" stroke-linejoin="round" marker-start="url(#oL)" marker-mid="url(#oL)" marker-end="url(#oL)"/>
<polyline points="129.8,1314 123.4,1308 116,1312.8 108.5,1314 99.5,1323 92.5,1321" fill="none" stroke="none" stroke-width="1.2" stroke-linejoin="round" marker-start="url(#muL)" marker-mid="url(#muL)" marker-end="url(#muL)"/>
<polyline points="664,1224 657.6,1227.5 651.7,1221.5 645.7,1229 638,1227.5 631.6,1215.5 624.7,1221.5 617,1217 609.8,1224.5 602,1223 594.8,1221.5" fill="none" stroke="none" stroke-width="1.2" stroke-linejoin="round" marker-start="url(#muL)" marker-mid="url(#muL)" marker-end="url(#muL)"/>
<polyline points="587.4,1224.1 581,1224.6 574.5,1224.2 568.1,1222.8 561.7,1220.8 555.2,1219.1 548.8,1217 542.4,1214.5 535.9,1212.1 529.5,1210.2 523,1207.1 516.6,1204.1 510.2,1200.6 503.7,1194.6 497.3,1190.2 490.9,1184.8 484.4,1179.6 478,1173.1 471.6,1167.4 465.1,1160 458.7,1151.2 452.2,1145.6 445.8,1139.1 439.4,1129.6 432.9,1121.2 426.5,1113.5 420.1,1103.8 413.6,1095.7 407.2,1088.8 400.8,1082.9 394.3,1078.7 387.9,1075.3 381.5,1075.1 375,1075.1 368.6,1076.1 362.1,1080 355.7,1084.5 349.3,1089.5 342.8,1097 336.4,1103.8 330,1113.7 323.5,1121.2 317.1,1133.2 310.7,1144.2 304.2,1157.4 297.8,1172.3 291.4,1184.2 284.9,1196.8 278.5,1208.9 272.1,1219.5 265.6,1229.2 259.2,1237.7 252.7,1245 246.3,1252.4 239.9,1259.5 233.4,1266 227,1271.7 220.6,1278.3 214.1,1284 207.7,1288 201.3,1291.8 194.8,1295.9 188.4,1299.3 182,1301.9 175.5,1304.4 169.1,1306.7 162.6,1308.8 156.2,1310.3 149.8,1311.5 143.3,1313 136.9,1314" fill="none" stroke="none" stroke-width="1.3" stroke-linejoin="round" marker-start="url(#muL)" marker-mid="url(#muL)" marker-end="url(#muL)"/>
<polyline points="664,1224 657.6,1227.5 651.7,1221.5 645.7,1229 638,1227.5 631.6,1215.5 624.7,1221.5 617,1217 609.8,1224.5 602,1223 594.8,1221.5" fill="none" stroke="none" stroke-width="1.2" stroke-linejoin="round" marker-start="url(#rdL)" marker-mid="url(#rdL)" marker-end="url(#rdL)"/>
<polyline points="587.4,1227.5 581,1227.5 574.5,1227.5 568.1,1227.5 561.7,1227.2 555.2,1226.1 548.8,1224.6 542.4,1222.5 535.9,1219.7 529.5,1216 523,1211.4 516.6,1205.9 510.2,1199.7 503.7,1192.8 497.3,1185.2 490.9,1176.7 484.4,1167.4 478,1157.2 471.6,1146.4 465.1,1136.8 458.7,1127 452.2,1117.3 445.8,1109.6 439.4,1105.7 432.9,1103.8 426.5,1103.7 420.1,1105.5 413.6,1109.7 407.2,1116.4 400.8,1126.1 394.3,1137 387.9,1149.5 381.5,1160.8 375,1174.5 368.6,1189.1 362.1,1203 355.7,1217.3 349.3,1230.9 342.8,1243.3 336.4,1254.9 330,1264.7 323.5,1273.8 317.1,1280.9 310.7,1287.3 304.2,1293 297.8,1297.4 291.4,1300.6 284.9,1303 278.5,1304.9 272.1,1307 265.6,1308.8 259.2,1310.4 252.7,1311.7 246.3,1312.9 239.9,1314 233.4,1315.1 227,1316.1 220.6,1317.2 214.1,1318 207.7,1318.5 201.3,1318.9 194.8,1319.2 188.4,1319.4 182,1319.6 175.5,1319.7 169.1,1319.9 162.6,1320 156.2,1320 149.8,1320 143.3,1320 136.9,1320 130.5,1320 124.1,1320 117.7,1320 111.3,1320 104.9,1320 98.5,1320" fill="none" stroke="none" stroke-width="1.3" stroke-linejoin="round" marker-start="url(#rdL)" marker-mid="url(#rdL)" marker-end="url(#rdL)"/>
<polyline points="587.4,1228 584.1,1228.1 580.8,1228.2 577.5,1228.2 574.2,1228.3 570.9,1228.4 567.6,1228.5 564.3,1228.6 561,1228.8 557.7,1228.9 554.4,1229 551.1,1229.1 547.8,1229.3 544.5,1229.4 541.2,1229.6 537.9,1229.8 534.6,1229.9 531.3,1230.1 527.9,1230.3 524.6,1230.5 521.3,1230.7 518,1230.9 514.7,1231.1 511.4,1231.3 508.1,1231.5 504.8,1231.7 501.5,1232 498.2,1232.3 494.9,1232.6 491.6,1233 488.3,1233.4 485,1233.9 481.7,1234.5 478.4,1235.1 475.1,1235.7 471.8,1236.4 468.5,1237.1 465.2,1237.9 461.9,1238.8 458.6,1239.7 455.3,1240.7 452,1241.9 448.7,1243 445.4,1244.3 442.1,1245.6 438.8,1246.9 435.5,1248.3 432.2,1249.7 428.9,1251.2 425.6,1252.8 422.3,1254.4 419,1256.1 415.7,1257.8 412.3,1259.6 409,1261.3 405.7,1263 402.4,1264.7 399.1,1266.4 395.8,1268 392.5,1269.7 389.2,1271.4 385.9,1273.1 382.6,1274.7 379.3,1276.3 376,1277.9 372.7,1279.5 369.4,1281 366.1,1282.5 362.8,1284 359.5,1285.5 356.2,1286.9 352.9,1288.4 349.6,1289.8 346.3,1291.2 343,1292.6 339.7,1293.9 336.4,1295.1 333.1,1296.3 329.8,1297.4 326.5,1298.5 323.2,1299.6 319.9,1300.6 316.6,1301.6 313.3,1302.5 310,1303.4 306.7,1304.3 303.4,1305.1 300.1,1305.9 296.7,1306.7 293.4,1307.5 290.1,1308.2 286.8,1308.9 283.5,1309.5 280.2,1310.1 276.9,1310.6 273.6,1311.1 270.3,1311.5 267,1311.9 263.7,1312.3 260.4,1312.6 257.1,1313 253.8,1313.3 250.5,1313.5 247.2,1313.8 243.9,1314 240.6,1314.3 237.3,1314.5 234,1314.7 230.7,1315 227.4,1315.2 224.1,1315.4 220.8,1315.6 217.5,1315.8 214.2,1316 210.9,1316.2 207.6,1316.4 204.3,1316.5 201,1316.7 197.7,1316.8 194.4,1316.9 191.1,1316.9 187.8,1317 184.5,1317 181.1,1317 177.8,1317 174.5,1317 171.2,1317 167.9,1317 164.6,1317 161.3,1317 158,1317 154.7,1317 151.4,1317 148.1,1317 144.8,1317 141.5,1317 138.2,1317 134.9,1317 131.6,1317 128.3,1317 125,1317" fill="none" stroke="#000" stroke-width="1.8" stroke-linejoin="round" marker-start="url(#ko)" marker-mid="url(#ko)" marker-end="url(#ko)"/>
<polyline points="664,1224 657.6,1227.5 651.7,1221.5 645.7,1229 638,1227.5 631.6,1215.5 624.7,1221.5 617,1217 609.8,1224.5 602,1223 594.8,1221.5 587.4,1223.6 581,1224 574.5,1223.4 568.1,1221.7 561.7,1219.2 555.2,1216.1 548.8,1212.3 542.4,1207.5 535.9,1201.9 529.5,1195.9 523,1187.9 516.6,1179.1 510.2,1169 503.7,1155.6 497.3,1143.1 490.9,1128.5 484.4,1113 478,1095.2 471.6,1077.4 465.1,1058.8 458.7,1038.5 452.2,1021.2 445.8,1004.6 439.4,988.7 432.9,975.7 426.5,964.9 420.1,953.8 413.6,946.4 407.2,943 400.8,943.4 394.3,946.8 387.9,952.8 381.5,960.6 375,971.2 368.6,983.8 362.1,998.7 355.7,1014.7 349.3,1030.5 342.8,1047.6 336.4,1063.7 330,1081.1 323.5,1095.5 317.1,1112.6 310.7,1128.2 304.2,1145.5 297.8,1163.3 291.4,1176.9 284.9,1190.5 278.5,1203.5 272.1,1215.2 265.6,1226 259.2,1235.4 252.7,1243.4 246.3,1251.4 239.9,1259.2 233.4,1266 227,1271.7 220.6,1278.3 214.1,1284 207.7,1288 201.3,1291.8 194.8,1295.9 188.4,1299.3 182,1301.9 175.5,1304.4 169.1,1306.7 162.6,1308.8 156.2,1310.3 149.8,1311.5 143.3,1313 136.9,1314 129.8,1314 123.4,1308 116,1312.8 108.5,1314 99.5,1323 92.5,1321" fill="none" stroke="#00f" stroke-width="1.5" stroke-linejoin="round" marker-start="url(#bL)" marker-mid="url(#bL)" marker-end="url(#bL)"/>
</g>
<g clip-path="url(#cR)">
<polyline points="1214.7,1250 1207,1257.5 1199.7,1251.5 1192,1248.5 1186,1251.5 1178.8,1250 1171,1248.5 1164.7,1241 1157.8,1244 1151.8,1253 1148.9,1260.4 1144,1251.6 1138,1254 1128,1245 1124.4,1248.4 1119,1232 1111.5,1250 1103,1240 1096.5,1232 1090.5,1233.5 1085.3,1224.9 1080,1211 1072.6,1205 1065,1210 1057.6,1220 1052.8,1200.4 1048.7,1188.6 1045,1200 1036.7,1197.6 1033.7,1181 1026.7,1182.7 1023,1182.7 1020,1164.7 1015.8,1157 1008,1160 1002,1142 994.1,1148.9 988.8,1152.7 981.1,1137.6 975.4,1116.8 968,1121.5 963.4,1127 959,1096 957.4,1106 948.5,1081 942.5,1066 935.4,1069.1 930,1069 925.7,1052.5 919.7,1028.6 915,1010.7 907.7,992.7 900,974.8 896.3,970 891,964 882,944.9 874,925 870.3,931.1 866,927 858,932 852,945 845,968.8 837.5,986.7 831.5,1022.6 825.5,1046.6 818,1087 812,1121 804.5,1148 798.6,1166 791,1184 785,1217 777.6,1235 770,1242 766,1254.4 760,1258 750.7,1265 746.4,1272.3 742,1275 734,1302 726.8,1287 719,1285.8 713,1278 707,1293 699.9,1293 692.4,1291.8 686.4,1303.8 679,1299 672,1302 665.5,1305 658,1306.8" fill="none" stroke="none" stroke-width="1.2" stroke-linejoin="round" marker-start="url(#oR)" marker-mid="url(#oR)" marker-end="url(#oR)"/>
<polyline points="726.8,1287 719,1285.8 713,1278 707,1293 699.9,1293 692.4,1291.8 686.4,1303.8 679,1299 672,1302 665.5,1305 658,1306.8" fill="none" stroke="none" stroke-width="1.2" stroke-linejoin="round" marker-start="url(#rdR)" marker-mid="url(#rdR)" marker-end="url(#rdR)"/>
<polyline points="1214.7,1250 1207,1257.5 1199.7,1251.5 1192,1248.5 1186,1251.5 1178.8,1250 1171,1248.5 1164.7,1241 1157.8,1244 1151.8,1253" fill="none" stroke="none" stroke-width="1.2" stroke-linejoin="round" marker-start="url(#rdR)" marker-mid="url(#rdR)" marker-end="url(#rdR)"/>
<polyline points="1144,1253.5 1137.5,1253.8 1131,1254.1 1124.4,1254.4 1117.9,1254.7 1111.4,1255 1104.9,1255.3 1098.4,1255.5 1091.9,1255.8 1085.3,1256 1078.8,1256.2 1072.3,1256.4 1065.8,1256.6 1059.3,1256.8 1052.8,1257 1046.2,1257.2 1039.7,1257.4 1033.2,1257.4 1026.7,1257.5 1020.2,1257.5 1013.7,1257.3 1007.1,1256.9 1000.6,1256.5 994.1,1255.9 987.6,1254.6 981.1,1252.5 974.5,1249.4 968,1244.5 961.5,1237.3 955,1227 948.5,1215.4 942,1200 935.4,1181 928.9,1160.9 922.4,1138.9 915.9,1116.6 909.4,1091.4 902.9,1065.4 896.3,1041.1 889.8,1020.9 883.3,999.2 876.8,987.5 870.3,984.1 863.7,983.8 857.2,986.2 850.7,994.4 844.2,1011.8 837.7,1035.2 831.2,1061.7 824.6,1090.3 818.1,1116.2 811.6,1139.4 805.1,1167.3 798.6,1191.2 792.1,1210.5 785.5,1227.7 779,1242.8 772.5,1255.2 766,1264.5 759.5,1272 753,1277.8 746.4,1282.6 739.9,1286.3 733.4,1288.5" fill="none" stroke="#f00" stroke-width="1.3" stroke-linejoin="round" marker-start="url(#rdR)" marker-mid="url(#rdR)" marker-end="url(#rdR)"/>
<polyline points="726.8,1287 719,1285.8 713,1278 707,1293 699.9,1293 692.4,1291.8 686.4,1303.8 679,1299 672,1302 665.5,1305 658,1306.8" fill="none" stroke="none" stroke-width="1.2" stroke-linejoin="round" marker-start="url(#mlR)" marker-mid="url(#mlR)" marker-end="url(#mlR)"/>
<polyline points="1214.7,1250 1207,1257.5 1199.7,1251.5 1192,1248.5 1186,1251.5 1178.8,1250 1171,1248.5 1164.7,1241 1157.8,1244 1151.8,1253" fill="none" stroke="none" stroke-width="1.2" stroke-linejoin="round" marker-start="url(#mlR)" marker-mid="url(#mlR)" marker-end="url(#mlR)"/>
<polyline points="1144,1252.3 1137.5,1251 1131,1249.3 1124.4,1247.4 1117.9,1245 1111.4,1242.4 1104.9,1239.5 1098.4,1236.2 1091.9,1232.4 1085.3,1228.3 1078.8,1223.9 1072.3,1219.3 1065.8,1214.4 1059.3,1209.2 1052.8,1203.7 1046.2,1197.9 1039.7,1191.9 1033.2,1186 1026.7,1180.1 1020.2,1174.3 1013.7,1169 1007.1,1163.6 1000.6,1157.9 994.1,1152.5 987.6,1147.7 981.1,1144.2 974.5,1141.7 968,1139.6 961.5,1138.4 955,1138.6 948.5,1140 942,1142.7 935.4,1146.5 928.9,1151.2 922.4,1157.1 915.9,1164.7 909.4,1173 902.9,1181.4 896.3,1189.8 889.8,1197.9 883.3,1205.7 876.8,1213.4 870.3,1220.9 863.7,1228 857.2,1234.7 850.7,1241 844.2,1247.2 837.7,1253.1 831.2,1258.3 824.6,1262.9 818.1,1267 811.6,1270.4 805.1,1273.4 798.6,1276.3 792.1,1278.8 785.5,1280.9 779,1282.7 772.5,1284.2 766,1285.5 759.5,1286.9 753,1288.9 746.4,1291.1 739.9,1292.8 733.4,1294.3" fill="none" stroke="none" stroke-width="1.3" stroke-linejoin="round" marker-start="url(#mlR)" marker-mid="url(#mlR)" marker-end="url(#mlR)"/>
<polyline points="1144,1254 1140.7,1254.2 1137.4,1254.3 1134.1,1254.5 1130.8,1254.6 1127.4,1254.8 1124.1,1254.9 1120.8,1255.1 1117.5,1255.2 1114.2,1255.3 1110.9,1255.5 1107.6,1255.6 1104.3,1255.7 1101,1255.9 1097.6,1256 1094.3,1256.1 1091,1256.3 1087.7,1256.4 1084.4,1256.5 1081.1,1256.6 1077.8,1256.7 1074.5,1256.9 1071.2,1257 1067.8,1257.1 1064.5,1257.2 1061.2,1257.3 1057.9,1257.4 1054.6,1257.5 1051.3,1257.6 1048,1257.7 1044.7,1257.8 1041.3,1257.8 1038,1257.9 1034.7,1258 1031.4,1258 1028.1,1258.1 1024.8,1258.1 1021.5,1258.2 1018.2,1258.3 1014.9,1258.4 1011.5,1258.4 1008.2,1258.5 1004.9,1258.6 1001.6,1258.7 998.3,1258.9 995,1259 991.7,1259.2 988.4,1259.5 985.1,1259.8 981.7,1260.2 978.4,1260.6 975.1,1261.1 971.8,1261.6 968.5,1262 965.2,1262.5 961.9,1262.9 958.6,1263.4 955.3,1263.9 951.9,1264.4 948.6,1264.9 945.3,1265.4 942,1265.9 938.7,1266.4 935.4,1266.9 932.1,1267.4 928.8,1267.8 925.5,1268.3 922.1,1268.8 918.8,1269.3 915.5,1269.9 912.2,1270.5 908.9,1271.1 905.6,1271.7 902.3,1272.3 899,1272.9 895.7,1273.6 892.3,1274.3 889,1274.9 885.7,1275.7 882.4,1276.4 879.1,1277.2 875.8,1277.9 872.5,1278.7 869.2,1279.4 865.9,1280.2 862.5,1280.9 859.2,1281.7 855.9,1282.4 852.6,1283.2 849.3,1283.9 846,1284.6 842.7,1285.3 839.4,1286 836,1286.7 832.7,1287.3 829.4,1287.9 826.1,1288.5 822.8,1289.1 819.5,1289.7 816.2,1290.2 812.9,1290.7 809.6,1291.2 806.2,1291.6 802.9,1291.9 799.6,1292.3 796.3,1292.6 793,1292.9 789.7,1293.1 786.4,1293.4 783.1,1293.6 779.8,1293.8 776.4,1293.9 773.1,1294 769.8,1294.1 766.5,1294.2 763.2,1294.3 759.9,1294.4 756.6,1294.5 753.3,1294.6 750,1294.6 746.6,1294.7 743.3,1294.7 740,1294.8 736.7,1294.8 733.4,1294.8" fill="none" stroke="#000" stroke-width="1.8" stroke-linejoin="round" marker-start="url(#kd)" marker-mid="url(#kd)" marker-end="url(#kd)"/>
<polyline points="1214.7,1250 1207,1257.5 1199.7,1251.5 1192,1248.5 1186,1251.5 1178.8,1250 1171,1248.5 1164.7,1241 1157.8,1244 1151.8,1253 1144,1252 1137.5,1250.7 1131,1249 1124.4,1247.1 1117.9,1244.7 1111.4,1242.1 1104.9,1239.2 1098.4,1235.9 1091.9,1232.1 1085.3,1228 1078.8,1223.6 1072.3,1219 1065.8,1214.1 1059.3,1208.9 1052.8,1203.4 1046.2,1197.6 1039.7,1191.6 1033.2,1185.7 1026.7,1179.8 1020.2,1174 1013.7,1168.2 1007.1,1162.1 1000.6,1155.7 994.1,1148.9 987.6,1141.8 981.1,1134.3 974.5,1126.7 968,1118.8 961.5,1110.4 955,1101.3 948.5,1091.7 942,1081.6 935.4,1069.2 928.9,1055.1 922.4,1040.1 915.9,1023.8 909.4,1006.4 902.9,987.6 896.3,969.9 889.8,955 883.3,941.4 876.8,932 870.3,929.9 863.7,931.6 857.2,940.2 850.7,955.7 844.2,977.4 837.7,1001.8 831.2,1030.4 824.6,1059 818.1,1090.5 811.6,1119.6 805.1,1145.9 798.6,1172.1 792.1,1193.4 785.5,1213.8 779,1230.4 772.5,1244 766,1255.4 759.5,1262.6 753,1269.9 746.4,1274.8 739.9,1279.9 733.4,1284 726.8,1287 719,1285.8 713,1278 707,1293 699.9,1293 692.4,1291.8 686.4,1303.8 679,1299 672,1302 665.5,1305 658,1306.8" fill="none" stroke="#00f" stroke-width="1.5" stroke-linejoin="round" marker-start="url(#bR)" marker-mid="url(#bR)" marker-end="url(#bR)"/>
</g>
<g stroke="#000" stroke-width="2" fill="none" stroke-linecap="butt">
<path d="M99.1,458 V22 H656.6"/>
<path d="M97.4,457 V1337.2"/>
<path d="M96.4,458 H656.6 M96.4,894 H656.6 M96.4,1329.2 H656.6"/>
<path d="M656.6,20.3 H1217.5 V1329.2"/>
<path d="M656.6,456 H1217.5 M656.6,893.8 H1217.5 M656.6,1329.2 H1218.5"/>
</g>
<path d="M115.3,458 v4 M131.3,458 v4 M147.3,458 v4 M163.3,458 v4 M179.3,458 v7.6 M195.3,458 v4 M211.3,458 v4 M227.3,458 v4 M243.3,458 v4 M259.3,458 v7.6 M275.3,458 v4 M291.3,458 v4 M307.3,458 v4 M323.3,458 v4 M339.3,458 v7.6 M355.3,458 v4 M371.3,458 v4 M387.3,458 v4 M403.3,458 v4 M419.3,458 v7.6 M435.3,458 v4 M451.3,458 v4 M467.3,458 v4 M483.3,458 v4 M499.3,458 v7.6 M515.3,458 v4 M531.3,458 v4 M547.3,458 v4 M563.3,458 v4 M579.3,458 v7.6 M595.3,458 v4 M611.3,458 v4 M627.3,458 v4 M643.3,458 v4 M670,456 v4 M684,456 v4 M698,456 v4 M712.1,456 v4 M726.1,456 v7.6 M740.1,456 v4 M754.2,456 v4 M768.2,456 v4 M782.2,456 v4 M796.3,456 v7.6 M810.3,456 v4 M824.3,456 v4 M838.4,456 v4 M852.4,456 v4 M866.4,456 v7.6 M880.5,456 v4 M894.5,456 v4 M908.5,456 v4 M922.6,456 v4 M936.6,456 v7.6 M950.6,456 v4 M964.7,456 v4 M978.7,456 v4 M992.7,456 v4 M1006.8,456 v7.6 M1020.8,456 v4 M1034.8,456 v4 M1048.9,456 v4 M1062.9,456 v4 M1077,456 v7.6 M1091,456 v4 M1105,456 v4 M1119.1,456 v4 M1133.1,456 v4 M1147.1,456 v7.6 M1161.2,456 v4 M1175.2,456 v4 M1189.2,456 v4 M1203.3,456 v4 M1217.3,456 v7.6 M97.4,894 v7.6 M113.4,894 v4 M129.4,894 v4 M145.3,894 v4 M161.3,894 v4 M177.3,894 v7.6 M193.3,894 v4 M209.3,894 v4 M225.2,894 v4 M241.2,894 v4 M257.2,894 v7.6 M273.2,894 v4 M289.2,894 v4 M305.1,894 v4 M321.1,894 v4 M337.1,894 v7.6 M353.1,894 v4 M369.1,894 v4 M385,894 v4 M401,894 v4 M417,894 v7.6 M433,894 v4 M449,894 v4 M464.9,894 v4 M480.9,894 v4 M496.9,894 v7.6 M512.9,894 v4 M528.9,894 v4 M544.8,894 v4 M560.8,894 v4 M576.8,894 v7.6 M592.8,894 v4 M608.8,894 v4 M624.7,894 v4 M640.7,894 v4 M664.1,893.8 v4 M678.3,893.8 v4 M692.5,893.8 v4 M706.6,893.8 v4 M720.8,893.8 v7.6 M735,893.8 v4 M749.1,893.8 v4 M763.3,893.8 v4 M777.5,893.8 v4 M791.7,893.8 v7.6 M805.8,893.8 v4 M820,893.8 v4 M834.2,893.8 v4 M848.4,893.8 v4 M862.5,893.8 v7.6 M876.7,893.8 v4 M890.9,893.8 v4 M905.1,893.8 v4 M919.2,893.8 v4 M933.4,893.8 v7.6 M947.6,893.8 v4 M961.8,893.8 v4 M975.9,893.8 v4 M990.1,893.8 v4 M1004.3,893.8 v7.6 M1018.5,893.8 v4 M1032.6,893.8 v4 M1046.8,893.8 v4 M1061,893.8 v4 M1075.1,893.8 v7.6 M1089.3,893.8 v4 M1103.5,893.8 v4 M1117.7,893.8 v4 M1131.8,893.8 v4 M1146,893.8 v7.6 M1160.2,893.8 v4 M1174.4,893.8 v4 M1188.5,893.8 v4 M1202.7,893.8 v4 M1216.9,893.8 v7.6 M97.4,1329.2 v7.6 M113.4,1329.2 v4 M129.4,1329.2 v4 M145.3,1329.2 v4 M161.3,1329.2 v4 M177.3,1329.2 v7.6 M193.3,1329.2 v4 M209.3,1329.2 v4 M225.2,1329.2 v4 M241.2,1329.2 v4 M257.2,1329.2 v7.6 M273.2,1329.2 v4 M289.2,1329.2 v4 M305.1,1329.2 v4 M321.1,1329.2 v4 M337.1,1329.2 v7.6 M353.1,1329.2 v4 M369.1,1329.2 v4 M385,1329.2 v4 M401,1329.2 v4 M417,1329.2 v7.6 M433,1329.2 v4 M449,1329.2 v4 M464.9,1329.2 v4 M480.9,1329.2 v4 M496.9,1329.2 v7.6 M512.9,1329.2 v4 M528.9,1329.2 v4 M544.8,1329.2 v4 M560.8,1329.2 v4 M576.8,1329.2 v7.6 M592.8,1329.2 v4 M608.8,1329.2 v4 M624.7,1329.2 v4 M640.7,1329.2 v4 M664.1,1329.2 v4 M678.3,1329.2 v4 M692.5,1329.2 v4 M706.6,1329.2 v4 M720.8,1329.2 v7.6 M735,1329.2 v4 M749.1,1329.2 v4 M763.3,1329.2 v4 M777.5,1329.2 v4 M791.7,1329.2 v7.6 M805.8,1329.2 v4 M820,1329.2 v4 M834.2,1329.2 v4 M848.4,1329.2 v4 M862.5,1329.2 v7.6 M876.7,1329.2 v4 M890.9,1329.2 v4 M905.1,1329.2 v4 M919.2,1329.2 v4 M933.4,1329.2 v7.6 M947.6,1329.2 v4 M961.8,1329.2 v4 M975.9,1329.2 v4 M990.1,1329.2 v4 M1004.3,1329.2 v7.6 M1018.5,1329.2 v4 M1032.6,1329.2 v4 M1046.8,1329.2 v4 M1061,1329.2 v4 M1075.1,1329.2 v7.6 M1089.3,1329.2 v4 M1103.5,1329.2 v4 M1117.7,1329.2 v4 M1131.8,1329.2 v4 M1146,1329.2 v7.6 M1160.2,1329.2 v4 M1174.4,1329.2 v4 M1188.5,1329.2 v4 M1202.7,1329.2 v4 M1216.9,1329.2 v7.6" stroke="#000" stroke-width="1.9" fill="none"/>
<g stroke="#000" stroke-width="5.2" stroke-linecap="butt">
<line x1="634.7" y1="37.1" x2="664.1" y2="2.4"/><line x1="655.4" y1="38.6" x2="683.9" y2="6.3"/>
<line x1="634.7" y1="1339.2" x2="662.7" y2="1305.9"/><line x1="655.4" y1="1344" x2="682.9" y2="1309.8"/>
</g>
<g font-size="36" text-anchor="middle" class="w2">
<text x="97.4" y="1370" textLength="59" lengthAdjust="spacingAndGlyphs">513</text>
<text x="177.3" y="1370" textLength="59" lengthAdjust="spacingAndGlyphs">514</text>
<text x="257.2" y="1370" textLength="59" lengthAdjust="spacingAndGlyphs">515</text>
<text x="337.1" y="1370" textLength="59" lengthAdjust="spacingAndGlyphs">516</text>
<text x="417" y="1370" textLength="59" lengthAdjust="spacingAndGlyphs">517</text>
<text x="496.9" y="1370" textLength="59" lengthAdjust="spacingAndGlyphs">518</text>
<text x="576.8" y="1370" textLength="59" lengthAdjust="spacingAndGlyphs">519</text>
<text x="656.7" y="1370" textLength="59" lengthAdjust="spacingAndGlyphs">520</text>
<text x="720.8" y="1370" textLength="59" lengthAdjust="spacingAndGlyphs">528</text>
<text x="791.7" y="1370" textLength="59" lengthAdjust="spacingAndGlyphs">529</text>
<text x="862.5" y="1370" textLength="59" lengthAdjust="spacingAndGlyphs">530</text>
<text x="933.4" y="1370" textLength="59" lengthAdjust="spacingAndGlyphs">531</text>
<text x="1004.3" y="1370" textLength="59" lengthAdjust="spacingAndGlyphs">532</text>
<text x="1075.2" y="1370" textLength="59" lengthAdjust="spacingAndGlyphs">533</text>
<text x="1146" y="1370" textLength="59" lengthAdjust="spacingAndGlyphs">534</text>
<text x="1216.9" y="1370" textLength="59" lengthAdjust="spacingAndGlyphs">535</text>
</g>
<text class="w" x="299.6" y="1452.5" font-size="79.5" word-spacing="-4.5">Binding<tspan dx="-1.8"> energy</tspan> (eV)</text>
<text class="w" transform="translate(56.5,975.3) rotate(-90)" font-size="79.5" word-spacing="-4.5">Intensity<tspan dx="-3.5"> (arb.</tspan><tspan dx="3.5"> unit)</tspan></text>
<text class="w" transform="translate(106.6,87.2) scale(0.98,1)" font-size="78">(a)</text>
<text class="w" transform="translate(105,532.5) scale(0.98,1)" font-size="78">(b)</text>
<text class="w" transform="translate(101.3,962.6) scale(0.98,1)" font-size="78">(c)</text>
<text class="se w3" x="567" y="89" font-size="84">S<tspan class="n0" font-size="52" dx="-1.5" dy="16.5">1</tspan></text>
<text class="se w3" x="1124.5" y="93" font-size="84">S<tspan class="n0" font-size="52" dx="-1.5" dy="16.5">1</tspan></text>
<text class="se w3" x="567" y="526" font-size="84">S<tspan class="n0" font-size="52" dx="-1.5" dy="16.5">2</tspan></text>
<text class="se w3" x="1134" y="527" font-size="84">S<tspan class="n0" font-size="52" dx="-1.5" dy="16.5">2</tspan></text>
<text class="se w3" x="571" y="964" font-size="84">S<tspan class="n0" font-size="52" dx="-1.5" dy="16.5">3</tspan></text>
<text class="se w3" x="1133.5" y="970" font-size="84">S<tspan class="n0" font-size="52" dx="-1.5" dy="16.5">3</tspan></text>
<text class="se w2" x="129" y="157" font-size="44">V<tspan font-size="29" dy="-12.5">4+</tspan><tspan dy="12.5">2</tspan><tspan class="it">p</tspan><tspan class="sa" font-size="26" dy="9.5">3/2</tspan></text>
<text class="se w2" x="155.5" y="597" font-size="44">V<tspan font-size="29" dy="-12.5">4+</tspan><tspan dy="12.5">2</tspan><tspan class="it">p</tspan><tspan class="sa" font-size="26" dy="9.5">3/2</tspan></text>
<text class="se w2" x="499.5" y="650" font-size="44">V<tspan font-size="29" dy="-12.5">5+</tspan><tspan dy="12.5">2</tspan><tspan class="it">p</tspan><tspan class="sa" font-size="26" dy="9.5">3/2</tspan></text>
<text class="se w2" x="157" y="1037.5" font-size="44">V<tspan font-size="29" dy="-12.5">4+</tspan><tspan dy="12.5">2</tspan><tspan class="it">p</tspan><tspan class="sa" font-size="26" dy="9.5">3/2</tspan></text>
<text class="se w2" x="505.5" y="1101" font-size="44">V<tspan font-size="29" dy="-12.5">5+</tspan><tspan dy="12.5">2</tspan><tspan class="it">p</tspan><tspan class="sa" font-size="26" dy="9.5">3/2</tspan></text>
<text class="se w2" x="762" y="97.3" font-size="42">O1<tspan class="it">s</tspan></text>
<path d="M830.4,109.7 L865.2,153.7 M861.7,140.1 L865.2,153.7 L852.8,147.2" stroke="#000" stroke-width="1.4" fill="none"/>
<text class="se w2" x="736.4" y="500.6" font-size="42">O1<tspan class="it">s</tspan></text>
<path d="M822,508.6 L856,552.8 M852.7,539.2 L856,552.8 L843.7,546.1" stroke="#000" stroke-width="1.4" fill="none"/>
<text class="se w2" x="740.3" y="937.4" font-size="42">O1<tspan class="it">s</tspan></text>
<path d="M824,928.4 L858.4,973.3 M855.2,959.7 L858.4,973.3 L846.1,966.6" stroke="#000" stroke-width="1.4" fill="none"/>
</svg></body></html>
